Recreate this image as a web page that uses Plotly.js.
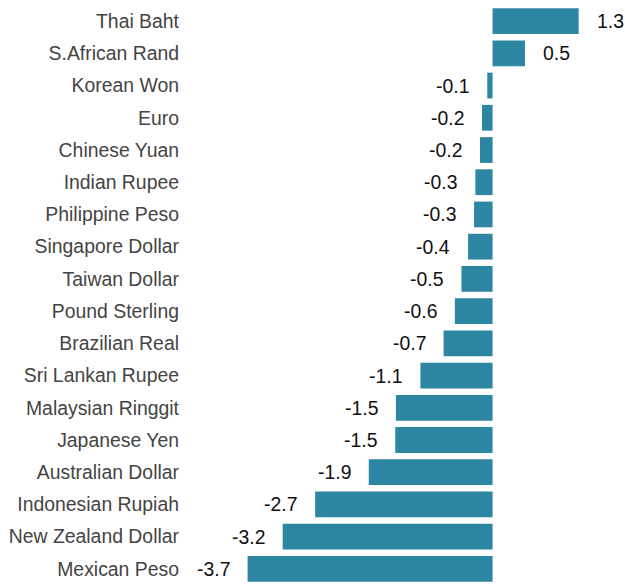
<!DOCTYPE html>
<html>
<head>
<meta charset="utf-8">
<script src="https://cdn.plot.ly/plotly-3.0.1.min.js"></script>
<style>html,body{margin:0;padding:0;background:#fff;}#chart{width:625px;height:585px;}</style>
</head>
<body>
<div id="chart"></div>
<script>
const currencies = ["Thai Baht","S.African Rand","Korean Won","Euro","Chinese Yuan","Indian Rupee","Philippine Peso","Singapore Dollar","Taiwan Dollar","Pound Sterling","Brazilian Real","Sri Lankan Rupee","Malaysian Ringgit","Japanese Yen","Australian Dollar","Indonesian Rupiah","New Zealand Dollar","Mexican Peso"];
const changes = [1.3, 0.49, -0.08, -0.16, -0.19, -0.26, -0.28, -0.37, -0.47, -0.57, -0.74, -1.09, -1.46, -1.47, -1.87, -2.68, -3.17, -3.7];
const valueLabels = changes.map(v => v.toFixed(1));

const FONT = '"Liberation Sans", Arial, sans-serif';

const trace = {
  type: 'bar',
  orientation: 'h',
  x: changes,
  y: currencies,
  marker: {color: '#2e87a2', line: {width: 0}},
  hoverinfo: 'skip'
};

const annotations = changes.map((v, i) => ({
  x: v, y: currencies[i], xref: 'x', yref: 'y',
  text: valueLabels[i], showarrow: false,
  xanchor: v >= 0 ? 'left' : 'right',
  xshift: v >= 0 ? 16 : -16,
  font: {family: FONT, size: 19.4, color: '#111111'}
}));

const layout = {
  width: 625, height: 585,
  margin: {l: 190, r: 0, t: 5, b: 0, pad: 0},
  paper_bgcolor: '#ffffff', plot_bgcolor: '#ffffff',
  showlegend: false,
  bargap: 0.2,
  xaxis: {range: [-4.57, 2.0], showgrid: false, zeroline: false, showticklabels: false, showline: false, ticks: ''},
  yaxis: {autorange: 'reversed', showgrid: false, zeroline: false, showline: false, ticks: '',
          ticklabelstandoff: 10,
          tickfont: {family: FONT, size: 19.4, color: '#444444'}},
  annotations: annotations
};

Plotly.newPlot('chart', [trace], layout, {displayModeBar: false, staticPlot: true});
</script>
</body>
</html>
